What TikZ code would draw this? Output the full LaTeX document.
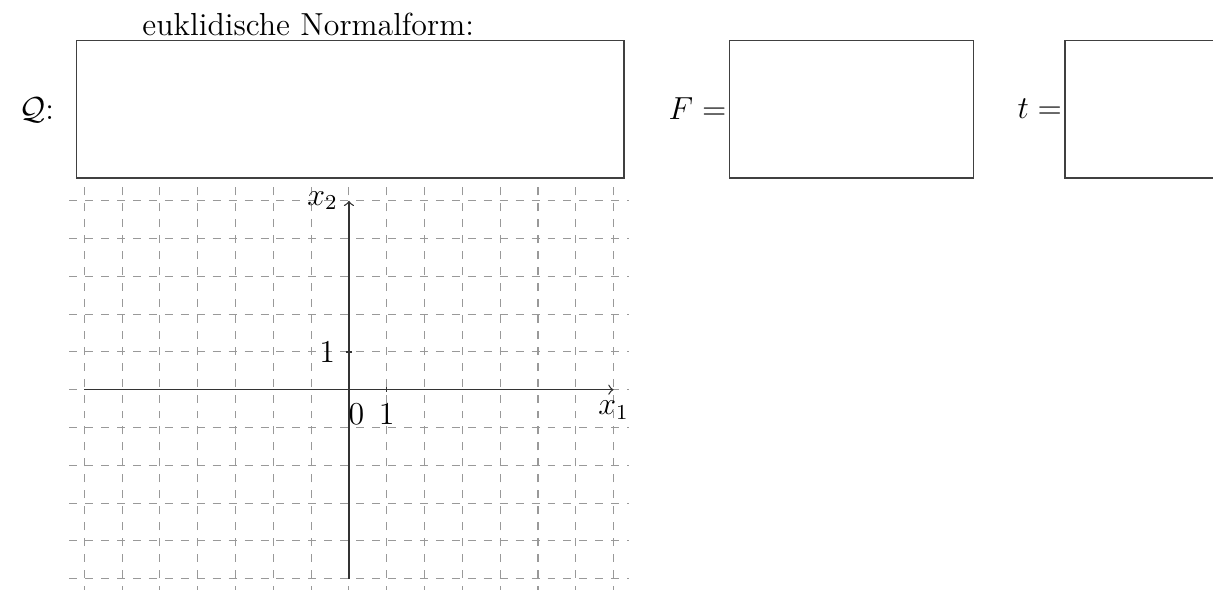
\documentclass[12pt,tikz,border=0pt]{standalone}
\usepackage{amsmath,amssymb}
\usetikzlibrary{calc}

\begin{document}
\begin{tikzpicture}[
line width=0.5pt,
answerbox/.style={draw=black!75},
gridline/.style={draw=black!40, dashed, line width=0.4pt},
axisline/.style={draw=black!80, ->},
axistick/.style={draw=black!80}
]
\useasboundingbox (-4.616,-2.649) rectangle (11.429,5.155);

\draw[gridline, step=0.5] (-3.7,-2.7) grid (3.7,2.7);
\draw[axisline] (-3.5,0) -- (3.5,0) node[below] (xlabel) {$x_1$};
\draw[axisline] (0,-2.5) -- (0,2.5) node[left] (ylabel) {$x_2$};
\draw[axistick] (0.5,1pt) -- (0.5,-1pt) node[below] (xone) {$1$};
\draw[axistick] (1pt,0.5) -- (-1pt,0.5) node[left] (yone) {$1$};
\node[below] (origin) at (0.1,-1pt) {$0$};

\draw[answerbox] (-3.6,2.8) rectangle (3.64,4.62);
\node[anchor=base west, inner sep=0pt] (normalform) at (-2.74,4.68) {euklidische Normalform:};
\node (quadric) at (-4.13,3.70) {$\mathcal{Q}$:};

\foreach \name/\lbl/\x in {fterm/F/5.03, tterm/t/9.47}{
\draw[answerbox] (\x,2.8) rectangle (\x+3.23,4.62);
\node[anchor=east, inner sep=0pt] (\name) at (\x-0.03,3.72) {$\lbl=$};
}
\end{tikzpicture}
\end{document}
